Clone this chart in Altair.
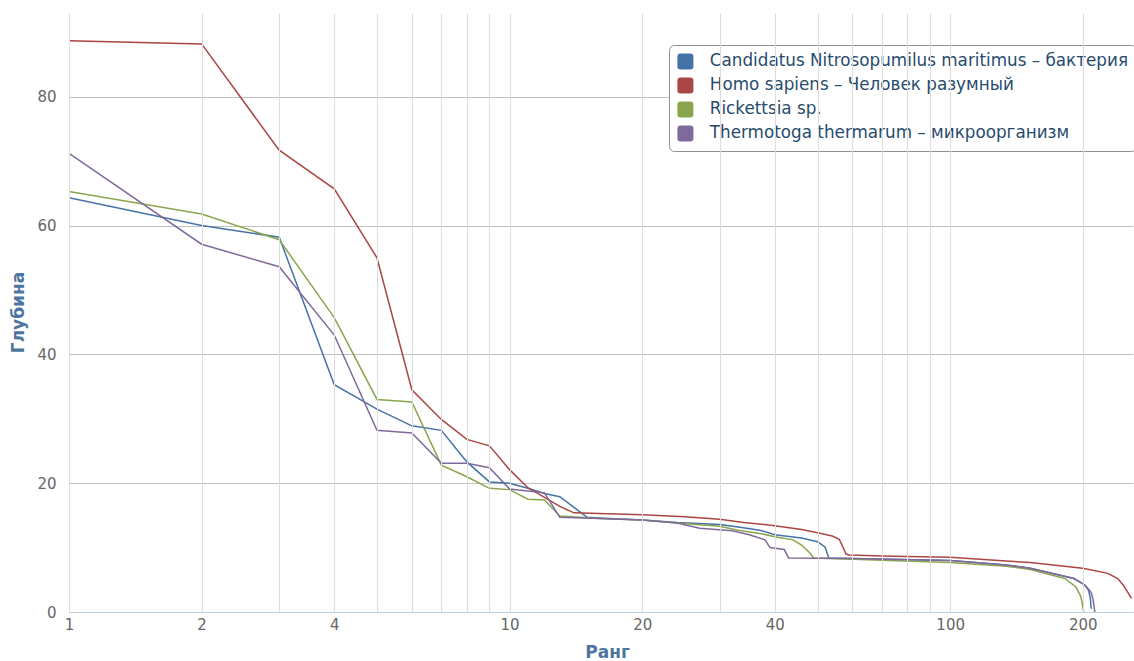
import altair as alt
import pandas as pd

# ---- data ----
names = [
    "Candidatus Nitrosopumilus maritimus – бактерия",
    "Homo sapiens – Человек разумный",
    "Rickettsia sp.",
    "Thermotoga thermarum – микроорганизм",
]
colors = ["#4572A7", "#AA4643", "#89A54E", "#80699B"]

rank_blue = [1, 2, 3, 4, 5, 6, 7, 8, 9, 10, 11, 12, 13, 15, 16, 20, 24, 30, 33, 37, 40, 46, 50, 52, 53,
             60, 100, 134, 152, 191, 202, 206, 208, 209]
val_blue = [64.3, 60.0, 58.2, 35.3, 31.5, 28.9, 28.2, 23.3, 20.2, 20.0, 19.2, 18.4, 17.9, 14.7, 14.6, 14.3,
            13.9, 13.6, 13.2, 12.7, 12.0, 11.5, 10.9, 10.1, 8.4, 8.3, 8.0, 7.3, 6.8, 5.2, 4.2, 3.4, 2.2, 0.5]

rank_red = [1, 2, 3, 4, 5, 6, 7, 8, 9, 10, 11, 12, 13, 14, 16, 20, 25, 30, 34, 40, 46, 50, 54, 56, 57, 58,
            59, 62, 70, 80, 100, 134, 152, 200, 228, 240, 247, 258]
val_red = [88.7, 88.2, 71.7, 65.7, 55.0, 34.5, 29.9, 26.8, 25.8, 22.1, 19.3, 17.8, 16.4, 15.4, 15.3, 15.1,
           14.8, 14.4, 13.9, 13.4, 12.8, 12.3, 11.8, 11.3, 10.2, 9.0, 8.85, 8.8, 8.7, 8.6, 8.5, 7.9, 7.7,
           6.8, 6.0, 5.2, 4.2, 2.1]

rank_green = [1, 2, 3, 4, 5, 6, 7, 8, 9, 10, 11, 12, 13, 16, 20, 24, 30, 33, 37, 40, 44, 46, 48, 49,
              60, 100, 134, 152, 182, 193, 198, 201]
val_green = [65.3, 61.8, 57.8, 45.7, 33.0, 32.6, 22.8, 21.0, 19.2, 19.0, 17.5, 17.4, 14.9, 14.5, 14.3,
             13.8, 13.3, 12.7, 12.2, 11.7, 11.2, 10.4, 9.2, 8.4, 8.2, 7.7, 7.1, 6.6, 5.2, 3.9, 2.4, 0.0]

rank_purple = [1, 2, 3, 4, 5, 6, 7, 8, 9, 10, 11, 12, 13, 16, 20, 24, 27, 32, 35, 38, 39, 42, 43,
               60, 100, 134, 152, 191, 202, 207, 209, 211, 212, 213]
val_purple = [71.2, 57.1, 53.6, 43.0, 28.2, 27.8, 23.1, 23.1, 22.4, 19.1, 18.8, 18.5, 14.7, 14.5, 14.3,
              13.8, 13.0, 12.6, 12.0, 11.2, 10.0, 9.7, 8.4, 8.3, 8.0, 7.3, 6.8, 5.2, 4.2, 3.4, 3.0,
              2.0, 1.0, 0.0]

x_grid_values = [1, 2, 3, 4, 5, 6, 7, 8, 9, 10, 20, 30, 40, 50, 60, 70, 80, 90, 100, 200]
x_label_values = [1, 2, 4, 10, 20, 40, 100, 200]
y_tick_values = [0, 20, 40, 60, 80]

rows = []
for name, rk, vl in zip(names,
                        [rank_blue, rank_red, rank_green, rank_purple],
                        [val_blue, val_red, val_green, val_purple]):
    for r, v in zip(rk, vl):
        rows.append({"series": name, "rank": r, "depth": v})
df = pd.DataFrame(rows)

FONT = "DejaVu Sans"
label_expr = "indexof(%s, datum.value) >= 0 ? datum.label : ''" % str(x_label_values)

rounded = ("M -0.6,-1 L 0.6,-1 Q 1,-1 1,-0.6 L 1,0.6 Q 1,1 0.6,1 L -0.6,1 "
           "Q -1,1 -1,0.6 L -1,-0.6 Q -1,-1 -0.6,-1 Z")

color_scale = alt.Scale(domain=names, range=colors)

base = alt.Chart(df)

lines = base.mark_line(strokeWidth=1.5, clip=True).encode(
    x=alt.X("rank:Q",
            scale=alt.Scale(type="log", domain=[1, 260], nice=False),
            axis=alt.Axis(title="Ранг", values=x_grid_values, labelExpr=label_expr,
                          grid=True, gridColor="#DDDDDD", gridWidth=1,
                          domainColor="#C0D0E0", domainWidth=1, ticks=False,
                          labelFont=FONT, labelFontSize=15, labelColor="#666666",
                          labelPadding=5, labelFlush=False,
                          titleFont=FONT, titleFontSize=17, titleFontWeight="bold",
                          titleColor="#4d759e", titleX=538, titleY=40,
                          titleBaseline="middle", zindex=1)),
    y=alt.Y("depth:Q",
            scale=alt.Scale(domain=[0, 93], nice=False),
            axis=alt.Axis(title="Глубина", values=y_tick_values,
                          grid=True, gridColor="#C0C0C0", gridWidth=1,
                          domain=False, ticks=False,
                          labelFont=FONT, labelFontSize=15, labelColor="#666666",
                          labelPadding=13,
                          titleFont=FONT, titleFontSize=17, titleFontWeight="bold",
                          titleColor="#4d759e", titleX=-51, titleY=299,
                          titleAngle=-90, titleAlign="center", titleBaseline="middle")),
    color=alt.Color("series:N", scale=color_scale, legend=None),
)

# legend only: an empty point layer whose colour scale carries the series names
legend_layer = base.transform_filter("datum.rank < 0").mark_point(
    filled=True, shape=rounded, size=256, opacity=1
).encode(
    color=alt.Color("series:N", scale=color_scale,
                    legend=alt.Legend(title=None, orient="none", legendX=600, legendY=32,
                                      symbolType=rounded, symbolSize=256, symbolStrokeWidth=0,
                                      symbolOpacity=1,
                                      labelFont=FONT, labelFontSize=16.8, labelColor="#274b6d",
                                      labelLimit=0, padding=8, rowPadding=6, labelOffset=16,
                                      fillColor="white", strokeColor="#909090",
                                      cornerRadius=5)),
)

chart = alt.layer(lines, legend_layer).resolve_scale(color="independent").properties(
    width=1064,
    height=599,
    autosize=alt.AutoSizeParams(type="none"),
    padding={"left": 69, "top": 13, "right": 1, "bottom": 49},
).configure_view(stroke=None)

chart.save("out.html", embed_options={"renderer": "svg", "actions": False})
